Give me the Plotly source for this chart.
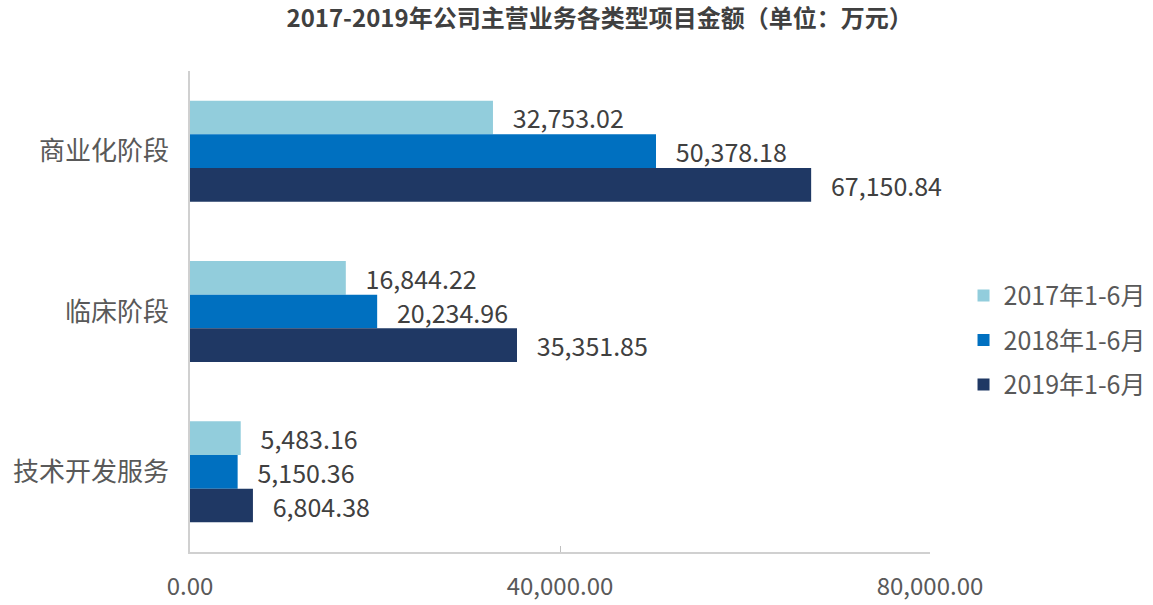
import plotly.graph_objects as go

categories = ["商业化阶段", "临床阶段", "技术开发服务"]
series_names = ["2017年1-6月", "2018年1-6月", "2019年1-6月"]
values_2017 = [32753.02, 16844.22, 5483.16]
values_2018 = [50378.18, 20234.96, 5150.36]
values_2019 = [67150.84, 35351.85, 6804.38]
tick_vals = [0, 40000, 80000]
tick_text = ["0.00", "40,000.00", "80,000.00"]

colors = ["#92CDDC", "#0070C0", "#1F3864"]
FONT = "Noto Sans CJK SC"
GRAY = "#595959"

fig = go.Figure()
for name, vals, col in zip(series_names, [values_2017, values_2018, values_2019], colors):
    fig.add_trace(go.Bar(
        y=categories, x=vals, name=name, orientation="h",
        marker=dict(color=col, line=dict(width=0)),
        text=["   " + f"{v:,.2f}" for v in vals],
        textposition="outside", constraintext="none", cliponaxis=False,
        textfont=dict(family=FONT, size=25, color="#404040"),
        legendgroup=name,
    ))

fig.update_layout(
    width=1153, height=605,
    barmode="group", bargap=0.37, bargroupgap=0,
    paper_bgcolor="white", plot_bgcolor="white",
    margin=dict(l=190, r=223, t=71, b=53, autoexpand=False),
    font=dict(family=FONT, color=GRAY),
    title=dict(text="<b>2017-2019年公司主营业务各类型项目金额（单位：万元）</b>",
               x=0.52, xanchor="center", y=0.97, yanchor="middle",
               font=dict(family=FONT, size=24, color="#404040")),
    xaxis=dict(range=[0, 80000], tickvals=tick_vals, ticktext=tick_text, automargin=False,
               showgrid=False, zeroline=False, showline=True, linecolor="#D0D0D0", linewidth=1.5,
               ticks="inside", ticklen=6, tickcolor="#C0C0C0",
               tickfont=dict(family=FONT, size=24, color=GRAY), ticklabelstandoff=12),
    yaxis=dict(autorange="reversed", showgrid=False, zeroline=False, showline=True, automargin=False,
               linecolor="#D0D0D0", linewidth=1.5, ticks="",
               tickfont=dict(family=FONT, size=26, color=GRAY), ticklabelstandoff=14),
    legend=dict(x=1.0453, y=0.44, xanchor="left", yanchor="middle",
                font=dict(family=FONT, size=25, color=GRAY),
                tracegroupgap=9, traceorder="grouped", bgcolor="rgba(0,0,0,0)"),
    showlegend=True,
)

fig.write_html("out.html")
